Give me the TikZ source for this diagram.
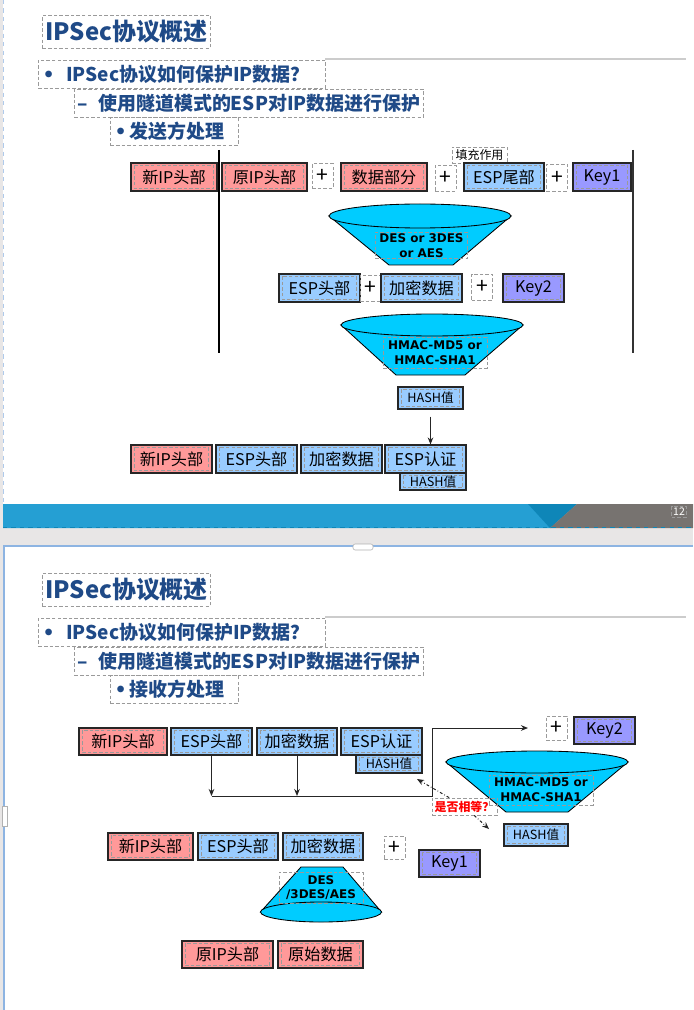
\documentclass[tikz,border=0pt]{standalone}
\usepackage{fontspec}
\setmainfont{Noto Sans CJK SC}
\newfontfamily\verdanalike{DejaVu Sans}
\usetikzlibrary{arrows.meta, calc}
\definecolor{titleBlue}{HTML}{1F4A87}
\definecolor{hdrRed}{HTML}{FF9999}
\definecolor{espBlue}{HTML}{99CCFF}
\definecolor{keyPurple}{HTML}{9999FF}
\definecolor{funnelCyan}{HTML}{00CCFF}
\definecolor{bandBlue}{HTML}{259FD3}
\definecolor{bandDark}{HTML}{0E86B8}
\definecolor{bandGray}{HTML}{777370}
\definecolor{frameBlue}{HTML}{8DB4E2}
\definecolor{guideGray}{HTML}{9A9A9A}
\definecolor{stripGray}{HTML}{E8E6E6}
\newcommand{\pxu}{0.025cm}
\newcommand{\cellsize}{\fontsize{11.5}{13}\selectfont}
\newcommand{\dotmark}{{\verdanalike •}}

\begin{document}
\begin{tikzpicture}[x=0.025cm, y=-0.025cm,
  guide/.style={draw=guideGray, line width=0.6pt, dash pattern=on 2.5pt off 1.5pt},
  wd/.style={minimum width=#1*\pxu},
  ht/.style={minimum height=#1*\pxu},
  cell/.style={draw=black!85, line width=0.8pt, inner sep=0pt, ht=28, font=\cellsize,
    path picture={\draw[guide] ([shift={(2.5pt,-1.5pt)}]path picture bounding box.north west)
      rectangle ([shift={(-2.5pt,1.5pt)}]path picture bounding box.south east);}},
  hdr/.style={cell, fill=hdrRed},
  esp/.style={cell, fill=espBlue},
  key/.style={cell, fill=keyPurple},
  hashval/.style={esp, ht=18, font=\fontsize{9}{10}\selectfont},
  plus/.style={guide, inner sep=0pt, wd=21, ht=25, font=\fontsize{15}{16}\selectfont},
  slidetitle/.style={guide, text=titleBlue, inner sep=2pt, font=\bfseries\fontsize{17}{19}\selectfont},
  heading/.style={guide, anchor=west, text=titleBlue, ht=28, inner ysep=0pt,
    font=\bfseries\fontsize{13.5}{15}\selectfont},
  algo/.style={guide, align=center, inner sep=1pt, font=\verdanalike\bfseries\fontsize{8.5}{10.5}\selectfont},
  funnel/.style={draw=black, line width=0.6pt, fill=funnelCyan},
  link/.style={draw=black!85, line width=0.7pt, -{Stealth[length=5pt, width=4pt]}},
  eqlink/.style={link, dash pattern=on 2pt off 1.5pt on 0.5pt off 1.5pt}]

  \useasboundingbox (0,0) rectangle (693,1010);
  \fill[stripGray] (0,0) rectangle (693,1010);
  \fill[white] (3,0) rectangle (693,504);
  \fill[white] (4,546) rectangle (693,1010);
  \draw[frameBlue!70, dashed] (3,0) -- (3,504);
  \draw[frameBlue, line width=0.8pt] (4,1010) -- (4,546) -- (693,546);
  \draw[black!30, fill=white] (2,806) rectangle (7,826);
  \draw[black!30, fill=white, rounded corners=1.5pt] (353,544) rectangle (373,550);

  % slide 1
  \fill[bandBlue] (3,504) -- (577,504) -- (550,528) -- (3,528) -- cycle;
  \fill[bandDark] (528,504) -- (577,504) -- (550,528) -- cycle;
  \fill[bandGray] (577,504) -- (693,504) -- (693,528) -- (550,528) -- cycle;
  \draw[bandDark, dashed, line width=0.4pt] (3,527.5) -- (693,527.5);
  \node[guide, text=white, inner sep=1pt, font=\fontsize{7.5}{8}\selectfont] (pageNo) at (679,512) {12};

  \node[slidetitle, wd=167, ht=33] (titleA) at (126.5,31.5) {IPSec协议概述};
  \draw[black!20, line width=0.8pt] (325,59) -- (686,59);
  \node[heading, inner xsep=3pt] (askA) at (38,74) {\dotmark\hspace{0.6em}IPSec协议如何保护IP数据？\kern0.6em};
  \node[heading, inner xsep=2pt] (modeA) at (74,103) {–\hspace{0.55em}使用隧道模式的ESP对IP数据进行保护};
  \node[heading, inner xsep=3pt] (sideA) at (110,131.5) {\dotmark\hspace{0.15em}发送方处理\kern0.5em};

  \draw[black, line width=0.8pt] (219,150) -- (219,353);
  \draw[black!80, line width=0.8pt] (633,150) -- (633,353);

  \node[hdr, wd=86] (newIpA) at (174,177) {新IP头部};
  \node[hdr, wd=85] (oldIpA) at (264.5,177) {原IP头部};
  \node[plus] (plusA1) at (322.5,176) {+};
  \node[hdr, wd=86] (dataA) at (384,177) {数据部分};
  \node[plus, ht=26] (plusA2) at (445.5,178) {+};
  \node[guide, wd=55, ht=16, inner sep=0pt, font=\fontsize{8.5}{9}\selectfont] (padA) at (479.5,155) {填充作用};
  \node[esp, wd=80] (tailA) at (504,177) {ESP尾部};
  \node[plus, ht=27] (plusA3) at (557,177.5) {+};
  \node[key, wd=58] (keyOneA) at (602,177) {Key1};

  \filldraw[funnel] (329,216) -- (389,265) -- (453,265) -- (511,216) -- cycle;
  \filldraw[funnel] (420,216) ellipse [x radius=91*\pxu, y radius=12*\pxu];
  \node[algo, wd=92] (encAlgA) at (421.5,245.5) {DES or 3DES\\or AES};

  \node[esp, wd=81] (espHdrA) at (319.5,288) {ESP头部};
  \node[plus, ht=26] (plusA4) at (370.5,288) {+};
  \node[esp, wd=81] (encA) at (421.5,288) {加密数据};
  \node[plus, ht=26] (plusA5) at (482,287) {+};
  \node[key, wd=61] (keyTwoA) at (533.5,288) {Key2};

  \filldraw[funnel] (341,325) -- (396,375) -- (465,375) -- (523,325) -- cycle;
  \filldraw[funnel] (432,325) ellipse [x radius=91*\pxu, y radius=11*\pxu];
  \node[algo, wd=104, ht=31] (macAlgA) at (435,352.5) {HMAC-MD5 or\\HMAC-SHA1};

  \node[hashval, wd=65, ht=22] (hashA) at (430.5,398) {HASH值};

  \node[hdr, wd=81] (newIpA2) at (171.5,459) {新IP头部};
  \node[esp, wd=81] (espHdrA2) at (256.5,459) {ESP头部};
  \node[esp, wd=81] (encA2) at (341.5,459) {加密数据};
  \node[esp, wd=81] (authA) at (425.5,459) {ESP认证};
  \node[hashval, wd=66, ht=17] (authHashA) at (433,481.5) {HASH值};

  \draw[link, shorten <=5pt] (hashA.south) -- (hashA.south |- authA.north);

  % slide 2
  \node[slidetitle, wd=167, ht=33] (titleB) at (126.5,589.5) {IPSec协议概述};
  \draw[black!20, line width=0.8pt] (325,617) -- (686,617);
  \node[heading, inner xsep=3pt] (askB) at (38,632) {\dotmark\hspace{0.6em}IPSec协议如何保护IP数据？\kern0.6em};
  \node[heading, inner xsep=2pt] (modeB) at (74,661) {–\hspace{0.55em}使用隧道模式的ESP对IP数据进行保护};
  \node[heading, inner xsep=3pt] (sideB) at (110,689.5) {\dotmark\hspace{0.15em}接收方处理\kern0.5em};

  \node[hdr, wd=88, ht=27] (newIpB) at (123,741.5) {新IP头部};
  \node[esp, wd=81, ht=27] (espHdrB) at (211.5,741.5) {ESP头部};
  \node[esp, wd=80, ht=27] (encB) at (297,741.5) {加密数据};
  \node[esp, wd=81, ht=27] (authB) at (381.5,741.5) {ESP认证};
  \node[hashval, wd=66] (authHashB) at (389,764) {HASH值};

  \node[plus, ht=24] (plusB1) at (556.5,728) {+};
  \node[key, wd=61, ht=27] (keyTwoB) at (604.5,730.5) {Key2};

  \filldraw[funnel] (446,762) -- (506,812) -- (568,812) -- (628,762) -- cycle;
  \filldraw[funnel] (537,762) ellipse [x radius=91*\pxu, y radius=11*\pxu];
  \node[algo, wd=104, ht=30] (macAlgB) at (541,790) {HMAC-MD5 or\\HMAC-SHA1};

  \node[hashval, wd=64, ht=22] (hashB) at (536,835) {HASH值};

  \coordinate (busR) at (432,796);
  \coordinate (keyTip) at (528,728);
  \coordinate (cmpA) at (417,779);
  \coordinate (cmpB) at (489,829);
  \draw[link] (espHdrB.south) -- (espHdrB.south |- busR);
  \draw[link] (encB.south) -- (encB.south |- busR);
  \draw[link] (espHdrB.south |- busR) -- (busR) -- (busR |- keyTip) -- (keyTip);

  \node[guide, wd=65, ht=17, inner sep=0pt, text=red, font=\bfseries\fontsize{8.5}{9}\selectfont] (equalQ) at (464.5,806.5) {是否相等？};
  \draw[eqlink] (equalQ) -- (cmpA);
  \draw[eqlink] (equalQ) -- (cmpB);

  \node[hdr, wd=85, ht=27] (newIpB2) at (150.5,846.5) {新IP头部};
  \node[esp, wd=80, ht=27] (espHdrB2) at (238,846.5) {ESP头部};
  \node[esp, wd=80, ht=27] (encB2) at (323,846.5) {加密数据};
  \node[plus, ht=23] (plusB2) at (394.5,847.5) {+};
  \node[key, wd=61, ht=27] (keyOneB) at (449.5,863.5) {Key1};

  \filldraw[funnel] (301,867) -- (343,867) -- (381.5,912) -- (260.5,912) -- cycle;
  \filldraw[funnel] (321,912) ellipse [x radius=60.5*\pxu, y radius=10*\pxu];
  \node[algo, wd=84, ht=31] (decAlgB) at (321,887.5) {DES\\/3DES/AES};

  \node[hdr, wd=91, ht=27] (oldIpB) at (227.5,954.5) {原IP头部};
  \node[hdr, wd=85, ht=27] (origB) at (320.5,954.5) {原始数据};
\end{tikzpicture}
\end{document}
